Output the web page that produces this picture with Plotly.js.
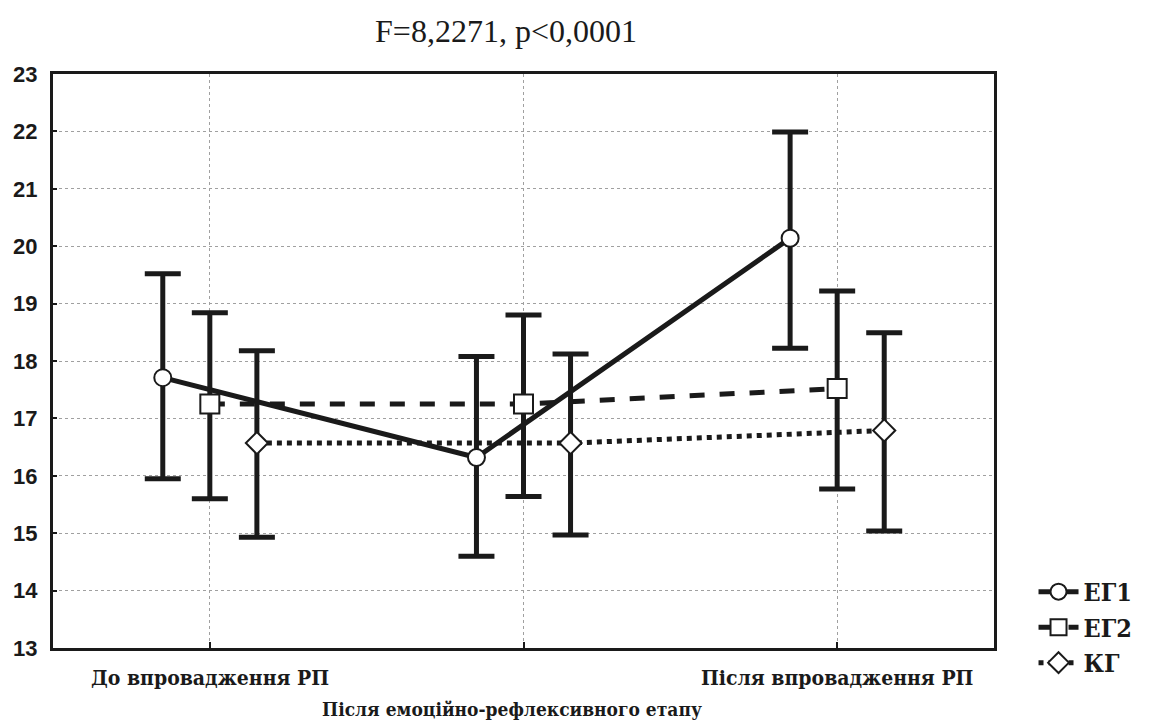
<!DOCTYPE html>
<html>
<head>
<meta charset="utf-8">
<script src="https://cdn.plot.ly/plotly-3.0.1.min.js"></script>
<style>html,body{margin:0;padding:0;background:#fff;}#chart{width:1150px;height:722px;}</style>
</head>
<body>
<div id="chart"></div>
<script>
// Category labels (x axis)
const categories = ["До впровадження РП", "Після емоційно-рефлексивного етапу", "Після впровадження РП"];
const yTicks = [13, 14, 15, 16, 17, 18, 19, 20, 21, 22, 23];
const seriesNames = ["ЕГ1", "ЕГ2", "КГ"];

// Means
const eg1Mean = [17.71, 16.32, 20.14];
const eg2Mean = [17.25, 17.25, 17.52];
const kgMean  = [16.57, 16.57, 16.79];
// Upper bounds of the interval
const eg1Upper = [19.52, 18.08, 21.99];
const eg2Upper = [18.84, 18.80, 19.22];
const kgUpper  = [18.18, 18.12, 18.49];
// Lower bounds of the interval
const eg1Lower = [15.95, 14.60, 18.22];
const eg2Lower = [15.60, 15.64, 15.77];
const kgLower  = [14.93, 14.97, 15.04];

const titleText = "F=8,2271, p<0,0001";

const serif = "'DejaVu Serif Condensed', 'DejaVu Serif', 'Liberation Serif', serif";

const catIdx = categories.map((c, i) => i);
const offsets = [-0.15, 0, 0.15];
const means = [eg1Mean, eg2Mean, kgMean];
const uppers = [eg1Upper, eg2Upper, kgUpper];
const lowers = [eg1Lower, eg2Lower, kgLower];
const dashes = ["solid", "dash", "dot"];
const symbols = ["circle", "square", "diamond"];
const msizes = [17, 19, 17];

const traces = seriesNames.map((name, s) => ({
  type: "scatter",
  mode: "lines+markers",
  name: name,
  x: catIdx.map(i => i + offsets[s]),
  y: means[s],
  line: {color: "#1a1a1a", width: 5, dash: dashes[s]},
  marker: {symbol: symbols[s], size: msizes[s], color: "#ffffff", line: {color: "#1a1a1a", width: 2}},
  error_y: {
    type: "data", symmetric: false,
    array: uppers[s].map((u, i) => u - means[s][i]),
    arrayminus: means[s].map((m, i) => m - lowers[s][i]),
    color: "#1a1a1a", thickness: 5, width: 18
  }
}));

const annotations = categories.map((c, i) => ({
  text: c, xref: "x", yref: "paper", x: i === 1 ? i - 0.038 : i, y: i === 1 ? -0.083 : -0.026,
  yanchor: "top", xanchor: "center", showarrow: false,
  font: {family: serif, size: i === 1 ? 19 : 21, color: "#1a1a1a", weight: "bold"}
}));

const layout = {
  width: 1150, height: 722,
  margin: {l: 53, r: 153, t: 74, b: 74},
  paper_bgcolor: "#ffffff", plot_bgcolor: "#ffffff",
  showlegend: true,
  title: {text: titleText, x: 0.44, xanchor: "center", y: 0.957, yanchor: "middle",
          font: {family: "Liberation Serif", size: 32, color: "#1a1a1a"}},
  xaxis: {
    range: [-0.5, 2.5], tickvals: catIdx, showticklabels: false,
    showgrid: true, gridcolor: "#a0a0a0", gridwidth: 1, griddash: "dot",
    zeroline: false, showline: true, linecolor: "#1a1a1a", linewidth: 3, mirror: true,
    ticks: "inside", ticklen: 6, tickwidth: 2, tickcolor: "#1a1a1a"
  },
  yaxis: {
    range: [13, 23], tickvals: yTicks,
    showgrid: true, gridcolor: "#a0a0a0", gridwidth: 1, griddash: "dot",
    zeroline: false, showline: true, linecolor: "#1a1a1a", linewidth: 3, mirror: true,
    ticks: "inside", ticklen: 4, tickwidth: 2, tickcolor: "#1a1a1a",
    ticklabelstandoff: 8,
    tickfont: {family: "Liberation Sans", size: 22, color: "#1a1a1a", weight: "bold"}
  },
  legend: {x: 1.042, xanchor: "left", y: -0.066, yanchor: "bottom",
           font: {family: serif, size: 25, color: "#1a1a1a", weight: "bold"},
           bgcolor: "rgba(0,0,0,0)", itemwidth: 40, tracegroupgap: 0},
  annotations: annotations
};

Plotly.newPlot("chart", traces, layout, {displayModeBar: false, staticPlot: true});
</script>
</body>
</html>
